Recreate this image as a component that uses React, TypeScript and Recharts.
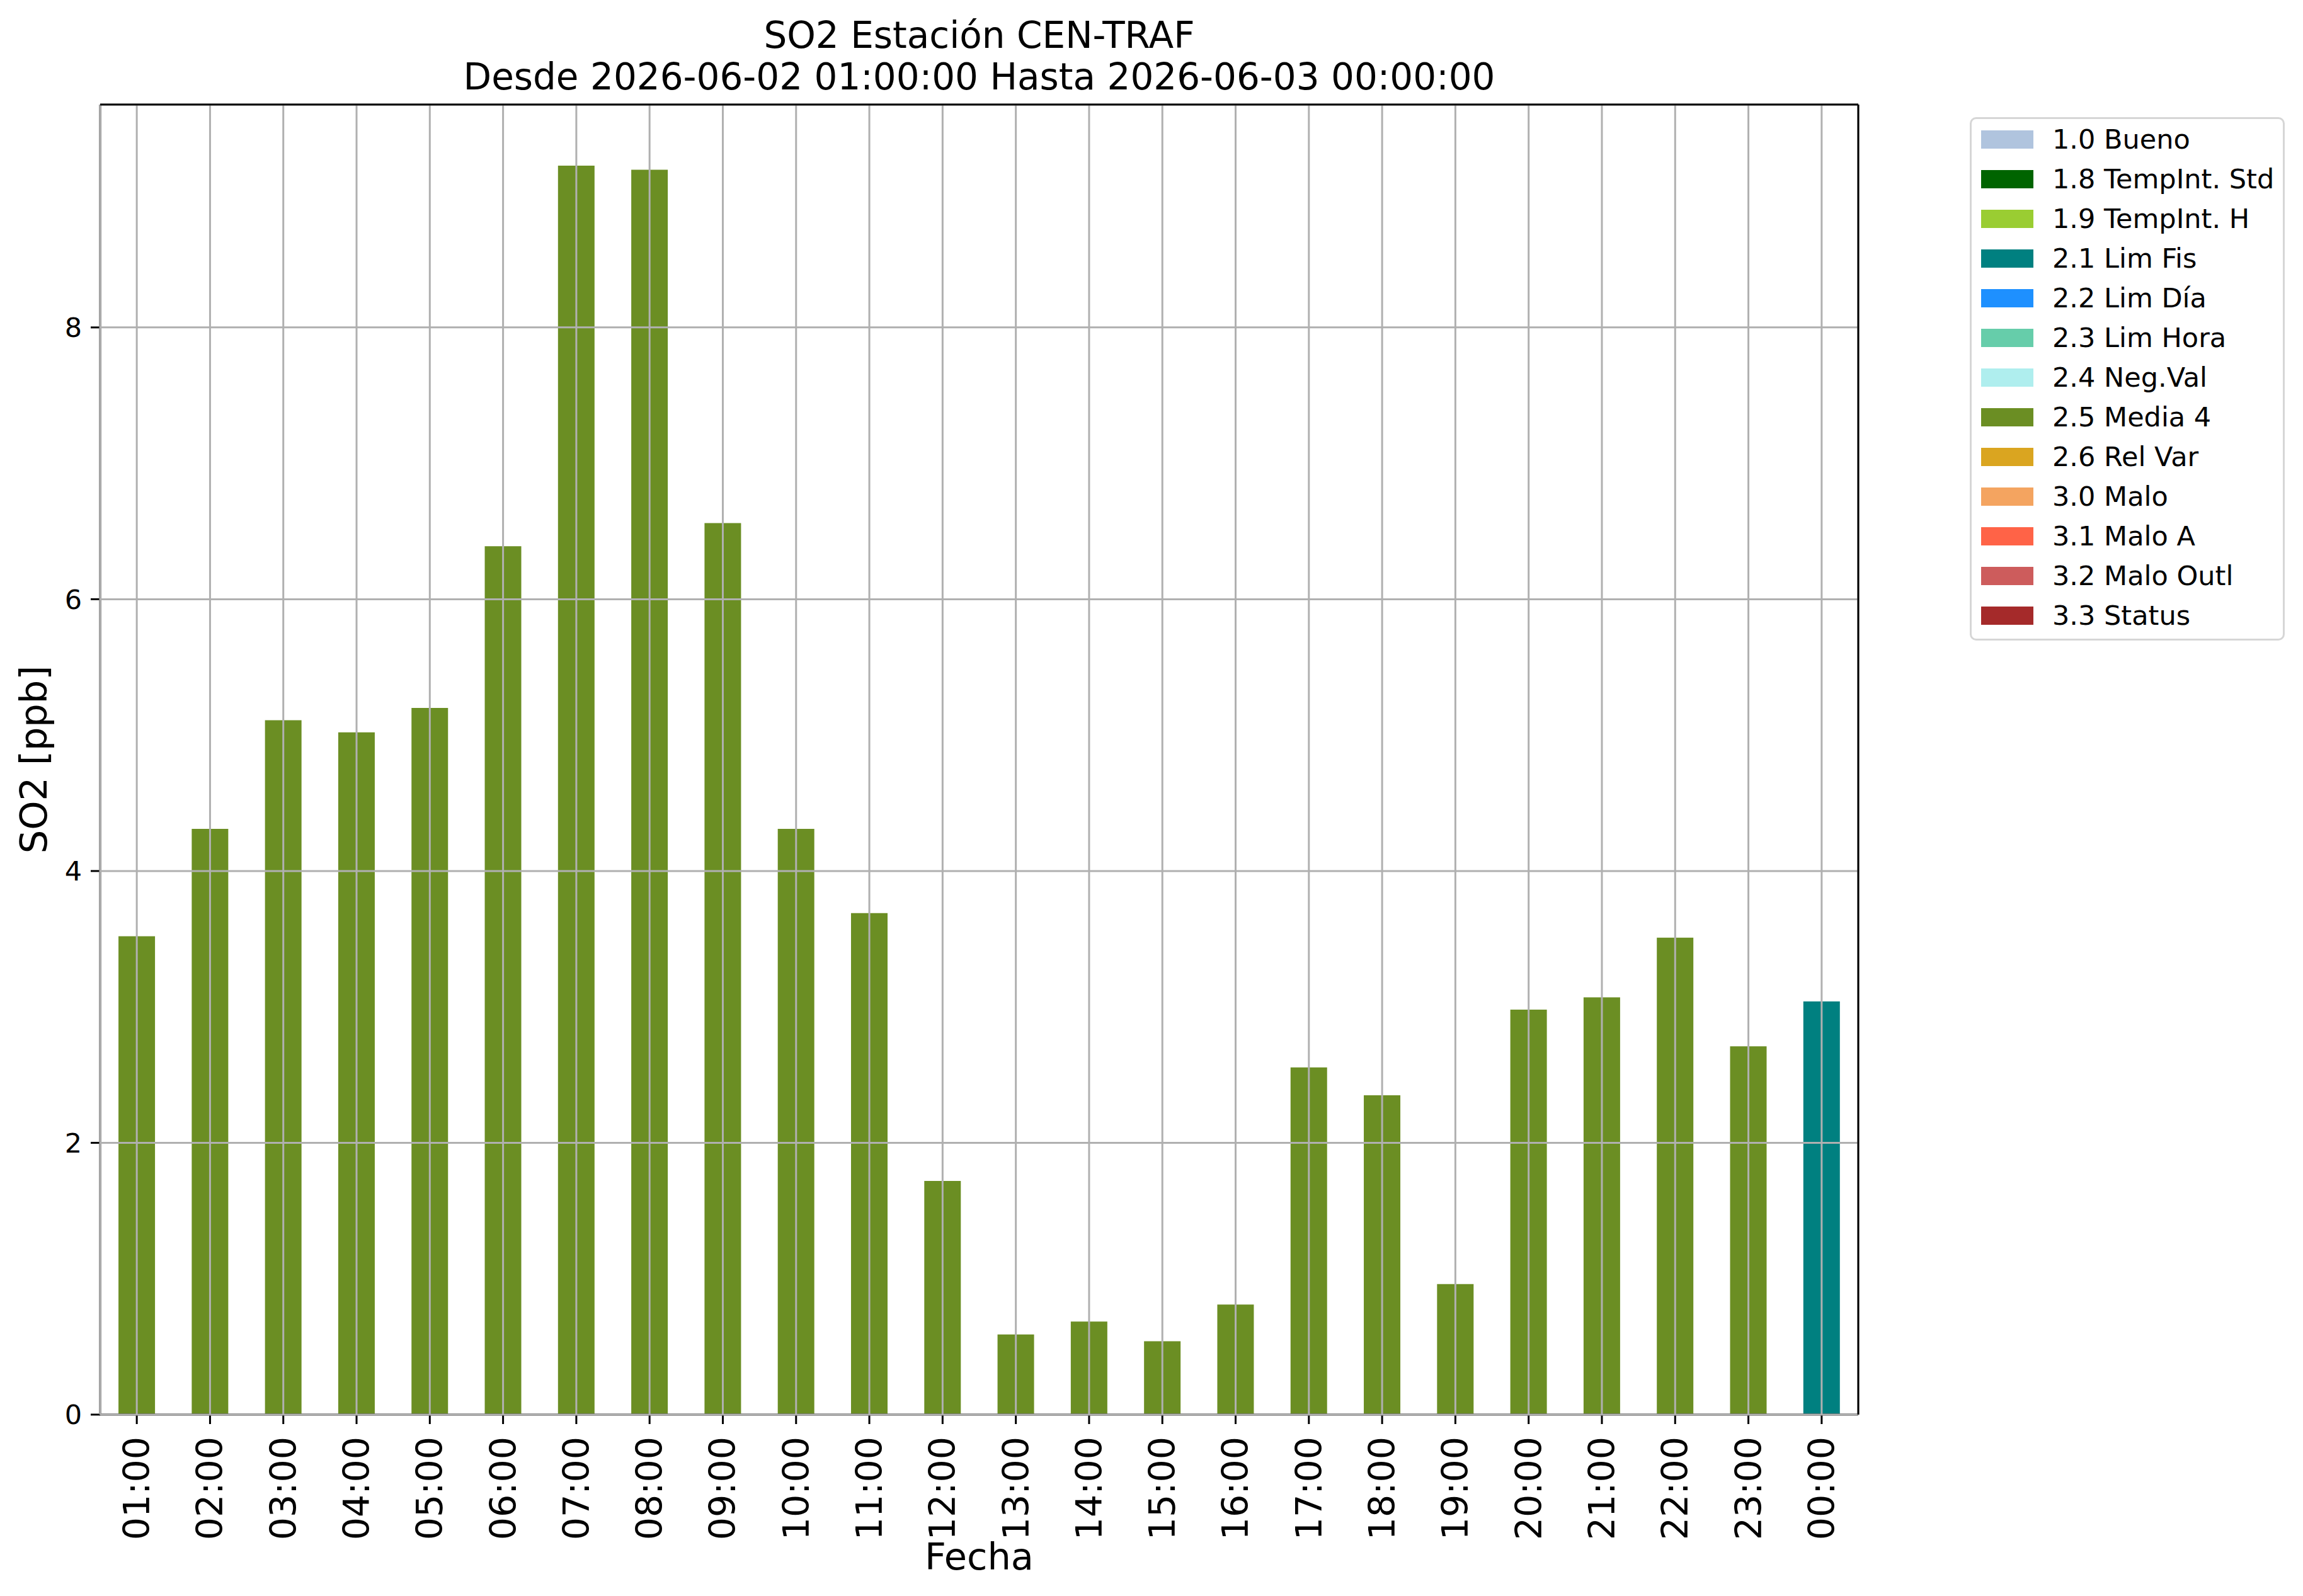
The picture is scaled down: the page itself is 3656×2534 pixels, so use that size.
import React from 'react';
import { BarChart, Bar, XAxis, YAxis, CartesianGrid, Cell, Legend, ReferenceLine } from 'recharts';

const HOURS = [
  '01:00', '02:00', '03:00', '04:00', '05:00', '06:00', '07:00', '08:00',
  '09:00', '10:00', '11:00', '12:00', '13:00', '14:00', '15:00', '16:00',
  '17:00', '18:00', '19:00', '20:00', '21:00', '22:00', '23:00', '00:00',
];
const SO2_PPB = [
  3.52, 4.31, 5.11, 5.02, 5.2, 6.39, 9.19, 9.16,
  6.56, 4.31, 3.69, 1.72, 0.59, 0.685, 0.54, 0.81,
  2.555, 2.35, 0.96, 2.98, 3.07, 3.51, 2.71, 3.04,
];
const HOUR_FLAGS = [
  '2.5', '2.5', '2.5', '2.5', '2.5', '2.5', '2.5', '2.5',
  '2.5', '2.5', '2.5', '2.5', '2.5', '2.5', '2.5', '2.5',
  '2.5', '2.5', '2.5', '2.5', '2.5', '2.5', '2.5', '2.1',
];
const FLAG_CODES = ['1.0', '1.8', '1.9', '2.1', '2.2', '2.3', '2.4', '2.5', '2.6', '3.0', '3.1', '3.2', '3.3'];
const FLAG_LABELS = [
  '1.0 Bueno', '1.8 TempInt. Std', '1.9 TempInt. H', '2.1 Lim Fis', '2.2 Lim Día',
  '2.3 Lim Hora', '2.4 Neg.Val', '2.5 Media 4', '2.6 Rel Var', '3.0 Malo',
  '3.1 Malo A', '3.2 Malo Outl', '3.3 Status',
];
const FLAG_COLORS = [
  '#B0C4DE', '#006400', '#9ACD32', '#008080', '#1E90FF', '#66CDAA', '#AFEEEE',
  '#6B8E23', '#DAA520', '#F4A460', '#FF6347', '#CD5C5C', '#A52A2A',
];
const Y_TICKS = [0, 2, 4, 6, 8];
const Y_MAX = 9.64;

const TITLE_LINES = ['SO2 Estación CEN-TRAF', 'Desde 2026-06-02 01:00:00 Hasta 2026-06-03 00:00:00'];
const X_LABEL = 'Fecha';
const Y_LABEL = 'SO2 [ppb]';

const FONT = '"DejaVu Sans", sans-serif';

const rows = HOURS.map((h, i) => ({ hour: h, value: SO2_PPB[i], flag: HOUR_FLAGS[i] }));
const colorOf = (flag: string) => FLAG_COLORS[FLAG_CODES.indexOf(flag)];

const XTick = (props: any) => {
  const { x, y, payload } = props;
  return (
    <text
      x={x}
      y={y}
      transform={`rotate(-90, ${x}, ${y})`}
      textAnchor="end"
      dy="0.35em"
      fontSize={57}
      fontFamily={FONT}
      fill="#000"
    >
      {payload.value}
    </text>
  );
};

const LegendBox = () => (
  <div
    style={{
      border: '3px solid #d6d6d6',
      borderRadius: 10,
      background: '#fff',
      boxSizing: 'border-box',
      width: 500,
      paddingTop: 1,
      paddingBottom: 5,
      fontFamily: FONT,
    }}
  >
    {FLAG_LABELS.map((label, i) => (
      <div key={label} style={{ display: 'flex', alignItems: 'center', height: 63 }}>
        <span
          style={{
            display: 'inline-block',
            width: 83,
            height: 29,
            marginLeft: 15,
            background: FLAG_COLORS[i],
          }}
        />
        <span style={{ marginLeft: 30, fontSize: 43, color: '#000', whiteSpace: 'nowrap', lineHeight: 1 }}>
          {label}
        </span>
      </div>
    ))}
  </div>
);

export default function App() {
  return (
    <div
      style={{
        position: 'absolute',
        left: 0,
        top: 0,
        width: 3656,
        height: 2534,
        background: '#fff',
        fontFamily: FONT,
        overflow: 'hidden',
      }}
    >
      <div
        style={{
          position: 'absolute',
          left: 159,
          width: 2791,
          top: 23,
          textAlign: 'center',
          fontSize: 58,
          lineHeight: '66px',
          color: '#000',
          whiteSpace: 'nowrap',
        }}
      >
        {TITLE_LINES.map((t) => (
          <div key={t}>{t}</div>
        ))}
      </div>
      <div style={{ position: 'absolute', left: 0, top: 0 }}>
        <BarChart
          width={3656}
          height={2534}
          data={rows}
          margin={{ top: 166, right: 706, bottom: 0, left: 0 }}
          barCategoryGap="25%"
        >
          <XAxis
            dataKey="hour"
            height={288}
            interval={0}
            tick={<XTick />}
            tickSize={15}
            tickMargin={20}
            tickLine={{ stroke: '#000', strokeWidth: 3 }}
            axisLine={{ stroke: '#000', strokeWidth: 3 }}
            label={(p: any) => {
              const vb = p.viewBox;
              return (
                <text
                  x={vb.x + vb.width / 2}
                  y={2492}
                  textAnchor="middle"
                  fontSize={59}
                  fontFamily={FONT}
                  fill="#000"
                >
                  {X_LABEL}
                </text>
              );
            }}
          />
          <YAxis
            width={159}
            domain={[0, Y_MAX]}
            ticks={Y_TICKS}
            tickSize={15}
            tickMargin={14}
            tick={{ fontSize: 43, fontFamily: FONT, fill: '#000' }}
            tickLine={{ stroke: '#000', strokeWidth: 3 }}
            axisLine={{ stroke: '#000', strokeWidth: 3 }}
            label={(p: any) => {
              const vb = p.viewBox;
              const cy = vb.y + vb.height / 2;
              return (
                <text
                  x={74}
                  y={cy}
                  transform={`rotate(-90, 74, ${cy})`}
                  textAnchor="middle"
                  fontSize={59}
                  fontFamily={FONT}
                  fill="#000"
                >
                  {Y_LABEL}
                </text>
              );
            }}
          />
          <Bar dataKey="value" isAnimationActive={false}>
            {rows.map((r) => (
              <Cell key={r.hour} fill={colorOf(r.flag)} />
            ))}
          </Bar>
          <CartesianGrid stroke="#b0b0b0" strokeWidth={3} zIndex={1000} />
          <ReferenceLine y={Y_MAX} stroke="#000" strokeWidth={3} ifOverflow="visible" zIndex={1100} />
          <ReferenceLine
            x={HOURS[HOURS.length - 1]}
            position="end"
            stroke="#000"
            strokeWidth={3}
            ifOverflow="visible"
            zIndex={1100}
          />
          <Legend
            layout="vertical"
            align="center"
            verticalAlign="middle"
            content={<LegendBox />}
            wrapperStyle={{ position: 'absolute', left: 3127, top: 186, width: 500, height: 'auto' }}
          />
        </BarChart>
      </div>
    </div>
  );
}
